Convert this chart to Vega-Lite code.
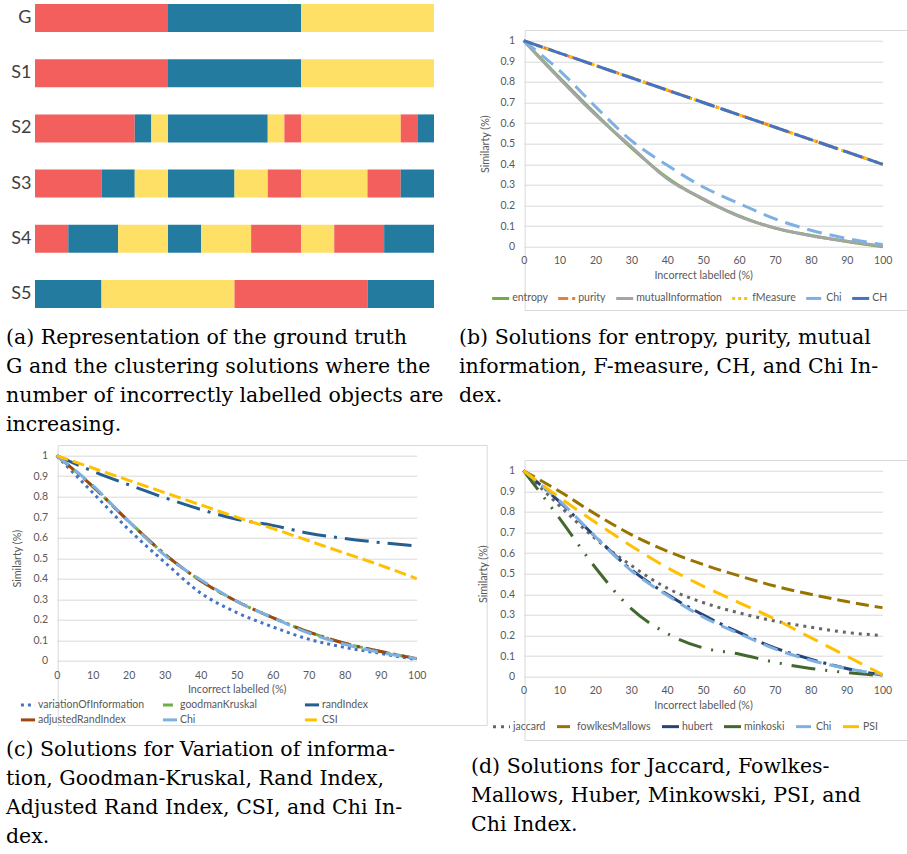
{
  "$schema": "https://vega.github.io/schema/vega-lite/v6.json",
  "padding": {"left": 5, "top": 4, "right": 2, "bottom": 2},
  "background": "white",
  "config": {
    "view": {"stroke": null},
    "font": "Lato",
    "axis": {"labelFont": "Lato", "titleFont": "Lato", "labelColor": "#595959", "titleColor": "#595959", "labelFontSize": 10.5, "titleFontSize": 10.75, "titleFontWeight": "normal", "gridColor": "#D9D9D9", "gridWidth": 1, "domain": false, "ticks": false, "labelFlush": false, "labelOverlap": false},
    "legend": {"labelFont": "Lato", "labelFontSize": 10.5, "labelColor": "#595959", "symbolType": "stroke", "symbolStrokeWidth": 3, "symbolSize": 290, "labelOffset": 1, "padding": 0},
    "title": {"font": "DejaVu Serif", "fontSize": 20.5, "fontWeight": "normal", "color": "#000000", "orient": "bottom", "anchor": "start", "lineHeight": 29, "frame": "group"},
    "line": {"strokeWidth": 3, "interpolate": "monotone"}
  },
  "datasets": {
    "bars": [
      {"s": "G", "from": 0, "to": 8, "k": "A"}, {"s": "G", "from": 8, "to": 16, "k": "B"}, {"s": "G", "from": 16, "to": 24, "k": "C"},
      {"s": "S1", "from": 0, "to": 8, "k": "A"}, {"s": "S1", "from": 8, "to": 16, "k": "B"}, {"s": "S1", "from": 16, "to": 24, "k": "C"},
      {"s": "S2", "from": 0, "to": 6, "k": "A"}, {"s": "S2", "from": 6, "to": 7, "k": "B"}, {"s": "S2", "from": 7, "to": 8, "k": "C"},
      {"s": "S2", "from": 8, "to": 14, "k": "B"}, {"s": "S2", "from": 14, "to": 15, "k": "C"}, {"s": "S2", "from": 15, "to": 16, "k": "A"},
      {"s": "S2", "from": 16, "to": 22, "k": "C"}, {"s": "S2", "from": 22, "to": 23, "k": "A"}, {"s": "S2", "from": 23, "to": 24, "k": "B"},
      {"s": "S3", "from": 0, "to": 4, "k": "A"}, {"s": "S3", "from": 4, "to": 6, "k": "B"}, {"s": "S3", "from": 6, "to": 8, "k": "C"},
      {"s": "S3", "from": 8, "to": 12, "k": "B"}, {"s": "S3", "from": 12, "to": 14, "k": "C"}, {"s": "S3", "from": 14, "to": 16, "k": "A"},
      {"s": "S3", "from": 16, "to": 20, "k": "C"}, {"s": "S3", "from": 20, "to": 22, "k": "A"}, {"s": "S3", "from": 22, "to": 24, "k": "B"},
      {"s": "S4", "from": 0, "to": 2, "k": "A"}, {"s": "S4", "from": 2, "to": 5, "k": "B"}, {"s": "S4", "from": 5, "to": 8, "k": "C"},
      {"s": "S4", "from": 8, "to": 10, "k": "B"}, {"s": "S4", "from": 10, "to": 13, "k": "C"}, {"s": "S4", "from": 13, "to": 16, "k": "A"},
      {"s": "S4", "from": 16, "to": 18, "k": "C"}, {"s": "S4", "from": 18, "to": 21, "k": "A"}, {"s": "S4", "from": 21, "to": 24, "k": "B"},
      {"s": "S5", "from": 0, "to": 4, "k": "B"}, {"s": "S5", "from": 4, "to": 12, "k": "C"}, {"s": "S5", "from": 12, "to": 20, "k": "A"}, {"s": "S5", "from": 20, "to": 24, "k": "B"}
    ],
    "pb": [
      {"series": "entropy", "pct": 0, "sim": 1}, {"series": "entropy", "pct": 10, "sim": 0.82}, {"series": "entropy", "pct": 20, "sim": 0.645}, {"series": "entropy", "pct": 30, "sim": 0.48}, {"series": "entropy", "pct": 40, "sim": 0.335}, {"series": "entropy", "pct": 50, "sim": 0.23}, {"series": "entropy", "pct": 60, "sim": 0.15}, {"series": "entropy", "pct": 70, "sim": 0.09}, {"series": "entropy", "pct": 80, "sim": 0.055}, {"series": "entropy", "pct": 90, "sim": 0.025}, {"series": "entropy", "pct": 100, "sim": 0},
      {"series": "purity", "pct": 0, "sim": 1}, {"series": "purity", "pct": 10, "sim": 0.94}, {"series": "purity", "pct": 20, "sim": 0.88}, {"series": "purity", "pct": 30, "sim": 0.82}, {"series": "purity", "pct": 40, "sim": 0.76}, {"series": "purity", "pct": 50, "sim": 0.7}, {"series": "purity", "pct": 60, "sim": 0.64}, {"series": "purity", "pct": 70, "sim": 0.58}, {"series": "purity", "pct": 80, "sim": 0.52}, {"series": "purity", "pct": 90, "sim": 0.46}, {"series": "purity", "pct": 100, "sim": 0.4},
      {"series": "mutualInformation", "pct": 0, "sim": 1}, {"series": "mutualInformation", "pct": 10, "sim": 0.815}, {"series": "mutualInformation", "pct": 20, "sim": 0.64}, {"series": "mutualInformation", "pct": 30, "sim": 0.485}, {"series": "mutualInformation", "pct": 40, "sim": 0.33}, {"series": "mutualInformation", "pct": 50, "sim": 0.233}, {"series": "mutualInformation", "pct": 60, "sim": 0.147}, {"series": "mutualInformation", "pct": 70, "sim": 0.092}, {"series": "mutualInformation", "pct": 80, "sim": 0.053}, {"series": "mutualInformation", "pct": 90, "sim": 0.027}, {"series": "mutualInformation", "pct": 100, "sim": 0.003},
      {"series": "fMeasure", "pct": 0, "sim": 1}, {"series": "fMeasure", "pct": 10, "sim": 0.94}, {"series": "fMeasure", "pct": 20, "sim": 0.88}, {"series": "fMeasure", "pct": 30, "sim": 0.82}, {"series": "fMeasure", "pct": 40, "sim": 0.76}, {"series": "fMeasure", "pct": 50, "sim": 0.7}, {"series": "fMeasure", "pct": 60, "sim": 0.64}, {"series": "fMeasure", "pct": 70, "sim": 0.58}, {"series": "fMeasure", "pct": 80, "sim": 0.52}, {"series": "fMeasure", "pct": 90, "sim": 0.46}, {"series": "fMeasure", "pct": 100, "sim": 0.4},
      {"series": "Chi", "pct": 0, "sim": 1}, {"series": "Chi", "pct": 10, "sim": 0.855}, {"series": "Chi", "pct": 20, "sim": 0.68}, {"series": "Chi", "pct": 30, "sim": 0.515}, {"series": "Chi", "pct": 40, "sim": 0.395}, {"series": "Chi", "pct": 50, "sim": 0.29}, {"series": "Chi", "pct": 60, "sim": 0.21}, {"series": "Chi", "pct": 70, "sim": 0.135}, {"series": "Chi", "pct": 80, "sim": 0.08}, {"series": "Chi", "pct": 90, "sim": 0.04}, {"series": "Chi", "pct": 100, "sim": 0.01},
      {"series": "CH", "pct": 0, "sim": 1}, {"series": "CH", "pct": 10, "sim": 0.94}, {"series": "CH", "pct": 20, "sim": 0.88}, {"series": "CH", "pct": 30, "sim": 0.82}, {"series": "CH", "pct": 40, "sim": 0.76}, {"series": "CH", "pct": 50, "sim": 0.7}, {"series": "CH", "pct": 60, "sim": 0.64}, {"series": "CH", "pct": 70, "sim": 0.58}, {"series": "CH", "pct": 80, "sim": 0.52}, {"series": "CH", "pct": 90, "sim": 0.46}, {"series": "CH", "pct": 100, "sim": 0.4}
    ],
    "pc": [
      {"series": "variationOfInformation", "pct": 0, "sim": 1}, {"series": "variationOfInformation", "pct": 10, "sim": 0.82}, {"series": "variationOfInformation", "pct": 20, "sim": 0.64}, {"series": "variationOfInformation", "pct": 30, "sim": 0.48}, {"series": "variationOfInformation", "pct": 40, "sim": 0.33}, {"series": "variationOfInformation", "pct": 50, "sim": 0.235}, {"series": "variationOfInformation", "pct": 60, "sim": 0.165}, {"series": "variationOfInformation", "pct": 70, "sim": 0.105}, {"series": "variationOfInformation", "pct": 80, "sim": 0.065}, {"series": "variationOfInformation", "pct": 90, "sim": 0.035}, {"series": "variationOfInformation", "pct": 100, "sim": 0.005},
      {"series": "goodmanKruskal", "pct": 0, "sim": 1}, {"series": "goodmanKruskal", "pct": 10, "sim": 0.85}, {"series": "goodmanKruskal", "pct": 20, "sim": 0.68}, {"series": "goodmanKruskal", "pct": 30, "sim": 0.52}, {"series": "goodmanKruskal", "pct": 40, "sim": 0.39}, {"series": "goodmanKruskal", "pct": 50, "sim": 0.29}, {"series": "goodmanKruskal", "pct": 60, "sim": 0.21}, {"series": "goodmanKruskal", "pct": 70, "sim": 0.14}, {"series": "goodmanKruskal", "pct": 80, "sim": 0.085}, {"series": "goodmanKruskal", "pct": 90, "sim": 0.045}, {"series": "goodmanKruskal", "pct": 100, "sim": 0.01},
      {"series": "randIndex", "pct": 0, "sim": 1}, {"series": "randIndex", "pct": 10, "sim": 0.925}, {"series": "randIndex", "pct": 20, "sim": 0.858}, {"series": "randIndex", "pct": 30, "sim": 0.795}, {"series": "randIndex", "pct": 40, "sim": 0.738}, {"series": "randIndex", "pct": 50, "sim": 0.69}, {"series": "randIndex", "pct": 60, "sim": 0.66}, {"series": "randIndex", "pct": 70, "sim": 0.622}, {"series": "randIndex", "pct": 80, "sim": 0.596}, {"series": "randIndex", "pct": 90, "sim": 0.576}, {"series": "randIndex", "pct": 100, "sim": 0.56},
      {"series": "adjustedRandIndex", "pct": 0, "sim": 1}, {"series": "adjustedRandIndex", "pct": 10, "sim": 0.85}, {"series": "adjustedRandIndex", "pct": 20, "sim": 0.68}, {"series": "adjustedRandIndex", "pct": 30, "sim": 0.52}, {"series": "adjustedRandIndex", "pct": 40, "sim": 0.39}, {"series": "adjustedRandIndex", "pct": 50, "sim": 0.29}, {"series": "adjustedRandIndex", "pct": 60, "sim": 0.21}, {"series": "adjustedRandIndex", "pct": 70, "sim": 0.14}, {"series": "adjustedRandIndex", "pct": 80, "sim": 0.085}, {"series": "adjustedRandIndex", "pct": 90, "sim": 0.045}, {"series": "adjustedRandIndex", "pct": 100, "sim": 0.01},
      {"series": "Chi", "pct": 0, "sim": 1}, {"series": "Chi", "pct": 10, "sim": 0.855}, {"series": "Chi", "pct": 20, "sim": 0.68}, {"series": "Chi", "pct": 30, "sim": 0.515}, {"series": "Chi", "pct": 40, "sim": 0.395}, {"series": "Chi", "pct": 50, "sim": 0.29}, {"series": "Chi", "pct": 60, "sim": 0.21}, {"series": "Chi", "pct": 70, "sim": 0.135}, {"series": "Chi", "pct": 80, "sim": 0.08}, {"series": "Chi", "pct": 90, "sim": 0.04}, {"series": "Chi", "pct": 100, "sim": 0.01},
      {"series": "CSI", "pct": 0, "sim": 1}, {"series": "CSI", "pct": 10, "sim": 0.94}, {"series": "CSI", "pct": 20, "sim": 0.88}, {"series": "CSI", "pct": 30, "sim": 0.82}, {"series": "CSI", "pct": 40, "sim": 0.76}, {"series": "CSI", "pct": 50, "sim": 0.7}, {"series": "CSI", "pct": 60, "sim": 0.645}, {"series": "CSI", "pct": 70, "sim": 0.585}, {"series": "CSI", "pct": 80, "sim": 0.525}, {"series": "CSI", "pct": 90, "sim": 0.465}, {"series": "CSI", "pct": 100, "sim": 0.4}
    ],
    "pd": [
      {"series": "jaccard", "pct": 0, "sim": 1}, {"series": "jaccard", "pct": 10, "sim": 0.83}, {"series": "jaccard", "pct": 20, "sim": 0.67}, {"series": "jaccard", "pct": 30, "sim": 0.54}, {"series": "jaccard", "pct": 40, "sim": 0.43}, {"series": "jaccard", "pct": 50, "sim": 0.36}, {"series": "jaccard", "pct": 60, "sim": 0.31}, {"series": "jaccard", "pct": 70, "sim": 0.27}, {"series": "jaccard", "pct": 80, "sim": 0.24}, {"series": "jaccard", "pct": 90, "sim": 0.215}, {"series": "jaccard", "pct": 100, "sim": 0.2},
      {"series": "fowlkesMallows", "pct": 0, "sim": 1}, {"series": "fowlkesMallows", "pct": 10, "sim": 0.9}, {"series": "fowlkesMallows", "pct": 20, "sim": 0.79}, {"series": "fowlkesMallows", "pct": 30, "sim": 0.69}, {"series": "fowlkesMallows", "pct": 40, "sim": 0.61}, {"series": "fowlkesMallows", "pct": 50, "sim": 0.545}, {"series": "fowlkesMallows", "pct": 60, "sim": 0.49}, {"series": "fowlkesMallows", "pct": 70, "sim": 0.44}, {"series": "fowlkesMallows", "pct": 80, "sim": 0.4}, {"series": "fowlkesMallows", "pct": 90, "sim": 0.365}, {"series": "fowlkesMallows", "pct": 100, "sim": 0.335},
      {"series": "hubert", "pct": 0, "sim": 1}, {"series": "hubert", "pct": 10, "sim": 0.85}, {"series": "hubert", "pct": 20, "sim": 0.68}, {"series": "hubert", "pct": 30, "sim": 0.52}, {"series": "hubert", "pct": 40, "sim": 0.4}, {"series": "hubert", "pct": 50, "sim": 0.3}, {"series": "hubert", "pct": 60, "sim": 0.215}, {"series": "hubert", "pct": 70, "sim": 0.14}, {"series": "hubert", "pct": 80, "sim": 0.085}, {"series": "hubert", "pct": 90, "sim": 0.04}, {"series": "hubert", "pct": 100, "sim": 0.008},
      {"series": "minkoski", "pct": 0, "sim": 1}, {"series": "minkoski", "pct": 10, "sim": 0.77}, {"series": "minkoski", "pct": 20, "sim": 0.53}, {"series": "minkoski", "pct": 30, "sim": 0.33}, {"series": "minkoski", "pct": 40, "sim": 0.21}, {"series": "minkoski", "pct": 50, "sim": 0.14}, {"series": "minkoski", "pct": 60, "sim": 0.11}, {"series": "minkoski", "pct": 70, "sim": 0.07}, {"series": "minkoski", "pct": 80, "sim": 0.04}, {"series": "minkoski", "pct": 90, "sim": 0.02}, {"series": "minkoski", "pct": 100, "sim": 0.005},
      {"series": "Chi", "pct": 0, "sim": 1}, {"series": "Chi", "pct": 10, "sim": 0.855}, {"series": "Chi", "pct": 20, "sim": 0.68}, {"series": "Chi", "pct": 30, "sim": 0.515}, {"series": "Chi", "pct": 40, "sim": 0.395}, {"series": "Chi", "pct": 50, "sim": 0.29}, {"series": "Chi", "pct": 60, "sim": 0.21}, {"series": "Chi", "pct": 70, "sim": 0.135}, {"series": "Chi", "pct": 80, "sim": 0.08}, {"series": "Chi", "pct": 90, "sim": 0.04}, {"series": "Chi", "pct": 100, "sim": 0.01},
      {"series": "PSI", "pct": 0, "sim": 1}, {"series": "PSI", "pct": 10, "sim": 0.87}, {"series": "PSI", "pct": 20, "sim": 0.75}, {"series": "PSI", "pct": 30, "sim": 0.635}, {"series": "PSI", "pct": 40, "sim": 0.53}, {"series": "PSI", "pct": 50, "sim": 0.44}, {"series": "PSI", "pct": 60, "sim": 0.36}, {"series": "PSI", "pct": 70, "sim": 0.28}, {"series": "PSI", "pct": 80, "sim": 0.19}, {"series": "PSI", "pct": 90, "sim": 0.1}, {"series": "PSI", "pct": 100, "sim": 0.01}
    ]
  },
  "bounds": "flush",
  "spacing": 441,
  "resolve": {"scale": {"x": "independent", "y": "independent", "color": "independent", "strokeDash": "independent"}, "legend": {"color": "independent", "strokeDash": "independent"}, "axis": {"x": "independent", "y": "independent"}},
  "vconcat": [
    {
      "bounds": "flush",
      "spacing": 89.7,
      "resolve": {"scale": {"x": "independent", "y": "independent", "color": "independent", "strokeDash": "independent"}, "legend": {"color": "independent", "strokeDash": "independent"}, "axis": {"x": "independent", "y": "independent"}},
      "hconcat": [
        {
          "width": 399,
          "height": 304,
          "data": {"name": "bars"},
          "mark": {"type": "bar"},
          "encoding": {
            "y": {"field": "s", "type": "nominal", "sort": ["G", "S1", "S2", "S3", "S4", "S5"], "scale": {"paddingInner": 0.493, "paddingOuter": 0}, "axis": {"title": null, "domain": false, "ticks": false, "labelFont": "Lato", "labelFontSize": 18, "labelColor": "#3f3f3f", "labelPadding": 4}},
            "x": {"field": "from", "type": "quantitative", "scale": {"domain": [0, 24], "nice": false, "zero": false}, "axis": null},
            "x2": {"field": "to"},
            "color": {"field": "k", "type": "nominal", "scale": {"domain": ["A", "B", "C"], "range": ["#F25F5C", "#247BA0", "#FFE066"]}, "legend": null}
          },
          "title": {"text": ["(a) Representation of the ground truth", "G and the clustering solutions where the", "number of incorrectly labelled objects are", "increasing."], "dx": -29, "offset": 20}
        },
        {
          "bounds": "flush",
          "spacing": 25,
          "resolve": {"scale": {"x": "independent", "y": "independent", "color": "independent", "strokeDash": "independent"}, "legend": {"color": "independent", "strokeDash": "independent"}, "axis": {"x": "independent", "y": "independent"}},
          "vconcat": [
            {"width": 1, "height": 1, "data": {"values": []}, "mark": {"type": "text", "text": ""}},
            {
              "bounds": "flush",
              "spacing": 10.7,
              "resolve": {"scale": {"x": "independent", "y": "independent", "color": "independent", "strokeDash": "independent"}, "legend": {"color": "independent", "strokeDash": "independent"}, "axis": {"x": "independent", "y": "independent"}},
              "vconcat": [
                {
                  "bounds": "flush",
                  "spacing": -50.7,
                  "hconcat": [
                    {"width": 1, "height": 1, "data": {"values": []}, "mark": {"type": "text", "text": ""}},
                    {"width": 429, "height": 280, "data": {"values": []}, "mark": {"type": "text", "text": ""}, "view": {"stroke": "#D9D9D9", "strokeWidth": 1}}
                  ]
                },
                {
                  "width": 359,
                  "height": 206,
                  "data": {"name": "pb"},
                  "mark": {"type": "line"},
                  "encoding": {
                    "x": {"field": "pct", "type": "quantitative", "scale": {"domain": [0, 100], "nice": false}, "axis": {"values": [0, 10, 20, 30, 40, 50, 60, 70, 80, 90, 100], "title": "Incorrect labelled (%)", "labelPadding": 9, "titlePadding": 4, "grid": false}},
                    "y": {"field": "sim", "type": "quantitative", "scale": {"domain": [0, 1], "nice": false}, "axis": {"values": [0, 0.1, 0.2, 0.3, 0.4, 0.5, 0.6, 0.7, 0.8, 0.9, 1], "format": ".1~f", "title": "Similarty (%)", "labelPadding": 9, "titlePadding": 10, "grid": true}},
                    "color": {"field": "series", "type": "nominal", "scale": {"domain": ["entropy", "purity", "mutualInformation", "fMeasure", "Chi", "CH"], "range": ["#70AD47", "#ED7D31", "#A5A5A5", "#FFC000", "#7EB1E1", "#4472C4"]}, "legend": {"title": null, "orient": "none", "legendX": -33.5, "legendY": 247, "direction": "horizontal", "columnPadding": 3}},
                    "strokeDash": {"field": "series", "type": "nominal", "scale": {"domain": ["entropy", "purity", "mutualInformation", "fMeasure", "Chi", "CH"], "range": [[1, 0], [10, 4, 3, 4], [1, 0], [3, 3], [15, 8], [20, 6]]}, "legend": {"title": null, "orient": "none", "legendX": -33.5, "legendY": 247, "direction": "horizontal", "columnPadding": 3}}
                  },
                  "title": {"text": ["(b) Solutions for entropy, purity, mutual", "information, F-measure, CH, and Chi In-", "dex."], "dx": -64.7, "offset": 23}
                }
              ]
            }
          ]
        }
      ]
    },
    {
      "bounds": "flush",
      "spacing": 488.5,
      "resolve": {"scale": {"x": "independent", "y": "independent", "color": "independent", "strokeDash": "independent"}, "legend": {"color": "independent", "strokeDash": "independent"}, "axis": {"x": "independent", "y": "independent"}},
      "hconcat": [
        {
          "bounds": "flush",
          "spacing": 20.7,
          "resolve": {"scale": {"x": "independent", "y": "independent", "color": "independent", "strokeDash": "independent"}, "legend": {"color": "independent", "strokeDash": "independent"}, "axis": {"x": "independent", "y": "independent"}},
          "hconcat": [
            {"width": 1, "height": 1, "data": {"values": []}, "mark": {"type": "text", "text": ""}},
            {
              "bounds": "flush",
              "spacing": 10.7,
              "resolve": {"scale": {"x": "independent", "y": "independent", "color": "independent", "strokeDash": "independent"}, "legend": {"color": "independent", "strokeDash": "independent"}, "axis": {"x": "independent", "y": "independent"}},
              "vconcat": [
                {
                  "bounds": "flush",
                  "spacing": -50.7,
                  "hconcat": [
                    {"width": 1, "height": 1, "data": {"values": []}, "mark": {"type": "text", "text": ""}},
                    {"width": 429, "height": 280, "data": {"values": []}, "mark": {"type": "text", "text": ""}, "view": {"stroke": "#D9D9D9", "strokeWidth": 1}}
                  ]
                },
                {
                  "width": 360,
                  "height": 205,
                  "data": {"name": "pc"},
                  "mark": {"type": "line"},
                  "encoding": {
                    "x": {"field": "pct", "type": "quantitative", "scale": {"domain": [0, 100], "nice": false}, "axis": {"values": [0, 10, 20, 30, 40, 50, 60, 70, 80, 90, 100], "title": "Incorrect labelled (%)", "labelPadding": 10, "titlePadding": 3, "grid": false}},
                    "y": {"field": "sim", "type": "quantitative", "scale": {"domain": [0, 1], "nice": false}, "axis": {"values": [0, 0.1, 0.2, 0.3, 0.4, 0.5, 0.6, 0.7, 0.8, 0.9, 1], "format": ".1~f", "title": "Similarty (%)", "labelPadding": 9, "titlePadding": 11, "grid": true}},
                    "color": {"field": "series", "type": "nominal", "scale": {"domain": ["variationOfInformation", "goodmanKruskal", "randIndex", "adjustedRandIndex", "Chi", "CSI"], "range": ["#4472C4", "#70AD47", "#255E91", "#9E480E", "#7EB1E1", "#FFC000"]}, "legend": {"title": null, "orient": "none", "legendX": -37.7, "legendY": 240.2, "direction": "horizontal", "columns": 3, "gridAlign": "all", "columnPadding": 11, "rowPadding": -3.4, "symbolSize": 200}},
                    "strokeDash": {"field": "series", "type": "nominal", "scale": {"domain": ["variationOfInformation", "goodmanKruskal", "randIndex", "adjustedRandIndex", "Chi", "CSI"], "range": [[3, 4], [10, 4, 3, 4], [24, 8, 3, 8], [22, 6, 3, 6], [15, 8], [12, 5]]}, "legend": {"title": null, "orient": "none", "legendX": -37.7, "legendY": 240.2, "direction": "horizontal", "columns": 3, "gridAlign": "all", "columnPadding": 11, "rowPadding": -3.4, "symbolSize": 200}}
                  },
                  "title": {"text": ["(c) Solutions for Variation of informa-", "tion, Goodman-Kruskal, Rand Index,", "Adjusted Rand Index, CSI, and Chi In-", "dex."], "dx": -50.7, "offset": 14}
                }
              ]
            }
          ]
        },
        {
          "bounds": "flush",
          "spacing": 14,
          "resolve": {"scale": {"x": "independent", "y": "independent", "color": "independent", "strokeDash": "independent"}, "legend": {"color": "independent", "strokeDash": "independent"}, "axis": {"x": "independent", "y": "independent"}},
          "vconcat": [
            {"width": 1, "height": 1, "data": {"values": []}, "mark": {"type": "text", "text": ""}},
            {
              "bounds": "flush",
              "spacing": 10.7,
              "resolve": {"scale": {"x": "independent", "y": "independent", "color": "independent", "strokeDash": "independent"}, "legend": {"color": "independent", "strokeDash": "independent"}, "axis": {"x": "independent", "y": "independent"}},
              "vconcat": [
                {
                  "bounds": "flush",
                  "spacing": -50.5,
                  "hconcat": [
                    {"width": 1, "height": 1, "data": {"values": []}, "mark": {"type": "text", "text": ""}},
                    {"width": 430, "height": 280, "data": {"values": []}, "mark": {"type": "text", "text": ""}, "view": {"stroke": "#D9D9D9", "strokeWidth": 1}}
                  ]
                },
                {
                  "width": 359,
                  "height": 206,
                  "data": {"name": "pd"},
                  "mark": {"type": "line"},
                  "encoding": {
                    "x": {"field": "pct", "type": "quantitative", "scale": {"domain": [0, 100], "nice": false}, "axis": {"values": [0, 10, 20, 30, 40, 50, 60, 70, 80, 90, 100], "title": "Incorrect labelled (%)", "labelPadding": 9, "titlePadding": 4, "grid": false}},
                    "y": {"field": "sim", "type": "quantitative", "scale": {"domain": [0, 1], "nice": false}, "axis": {"values": [0, 0.1, 0.2, 0.3, 0.4, 0.5, 0.6, 0.7, 0.8, 0.9, 1], "format": ".1~f", "title": "Similarty (%)", "labelPadding": 9, "titlePadding": 11, "grid": true}},
                    "color": {"field": "series", "type": "nominal", "scale": {"domain": ["jaccard", "fowlkesMallows", "hubert", "minkoski", "Chi", "PSI"], "range": ["#666666", "#997300", "#264478", "#43682B", "#7EB1E1", "#FFC000"]}, "legend": {"title": null, "orient": "none", "legendX": -32.5, "legendY": 245.2, "direction": "horizontal", "columnPadding": 4}},
                    "strokeDash": {"field": "series", "type": "nominal", "scale": {"domain": ["jaccard", "fowlkesMallows", "hubert", "minkoski", "Chi", "PSI"], "range": [[3, 5], [13, 6], [22, 6, 3, 6], [24, 10, 2, 10, 2, 10], [15, 8], [16, 9]]}, "legend": {"title": null, "orient": "none", "legendX": -32.5, "legendY": 245.2, "direction": "horizontal", "columnPadding": 4}}
                  },
                  "title": {"text": ["(d) Solutions for Jaccard, Fowlkes-", "Mallows, Huber, Minkowski, PSI, and", "Chi Index."], "dx": -52.5, "offset": 24}
                }
              ]
            }
          ]
        }
      ]
    }
  ]
}
